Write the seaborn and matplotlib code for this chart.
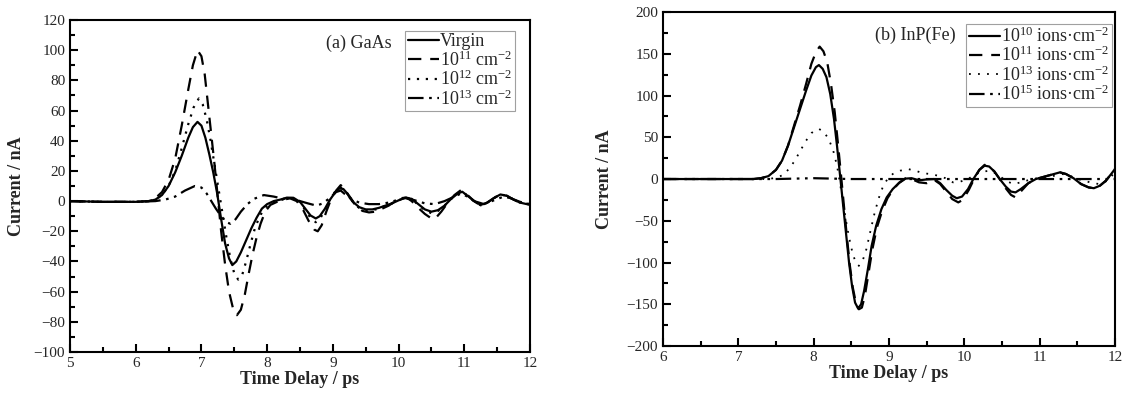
#!/usr/bin/env python3

import pandas as pd
import matplotlib
matplotlib.use('Agg')
import matplotlib.pyplot as plt
from matplotlib.ticker import MultipleLocator
import seaborn as sns

# values
# (a) GaAs
gaas_virgin_t = [5.0, 5.5, 6.0, 6.2, 6.3, 6.4, 6.5, 6.6, 6.7, 6.8, 6.87, 6.94, 7.0, 7.06,
                 7.12, 7.18, 7.24, 7.3, 7.36, 7.42, 7.47, 7.53, 7.6, 7.68, 7.76, 7.84,
                 7.92, 8.0, 8.1, 8.2, 8.3, 8.4, 8.5, 8.58, 8.66, 8.74, 8.8, 8.88, 8.95,
                 9.03, 9.1, 9.16, 9.24, 9.32, 9.4, 9.5, 9.6, 9.7, 9.8, 9.9, 10.0, 10.1,
                 10.2, 10.3, 10.4, 10.5, 10.6, 10.7, 10.8, 10.9, 10.97, 11.05, 11.15,
                 11.25, 11.35, 11.45, 11.55, 11.65, 11.75, 11.85, 11.95, 12.0]
gaas_virgin_i = [0.0, -0.5, -0.5, 0, 1, 4, 10, 19, 30, 42, 49, 52.5, 50, 42,
                 31, 19, 5, -12, -28, -38, -42.4, -40, -34, -26, -18, -11,
                 -5, -2, 0, 1, 2.3, 2.2, -0.5, -5, -9.5, -11.5, -10, -5, 0.5,
                 5.5, 8.4, 8, 4, -1, -4, -5.5, -5.5, -4.5, -3, -1.5, 0.5, 2.2,
                 1.5, -2, -5.5, -7, -6, -3, 1.5, 5, 6.2, 3.5, 0,
                 -2.5, -1, 2, 4.4, 3.5, 1, -1, -2, -2.2]

gaas_e11_t = [5.0, 5.5, 6.0, 6.2, 6.3, 6.4, 6.5, 6.6, 6.7, 6.8, 6.87, 6.94, 7.0, 7.05,
              7.1, 7.15, 7.2, 7.25, 7.3, 7.36, 7.42, 7.48, 7.54, 7.6, 7.66, 7.72, 7.78,
              7.84, 7.9, 7.97, 8.05, 8.15, 8.25, 8.35, 8.45, 8.55, 8.63, 8.72, 8.77,
              8.83, 8.9, 8.97, 9.05, 9.12, 9.18, 9.26, 9.35, 9.45, 9.55, 9.65, 9.75,
              9.85, 9.95, 10.05, 10.12, 10.2, 10.3, 10.4, 10.5, 10.55, 10.65, 10.75,
              10.85, 10.95, 11.05, 11.15, 11.25, 11.35, 11.45, 11.55, 11.65, 11.75,
              11.85, 12.0]
gaas_e11_i = [0.0, -0.5, -0.5, 0, 2, 6, 14, 28, 50, 74, 90, 100, 96, 84,
              64, 44, 24, 2, -20, -42, -60, -71, -75.6, -72, -62, -48, -35,
              -24, -15, -7, -2.5, -0.5, 1, 1.8, 0, -6, -13, -19, -20,
              -16, -7, 1, 7, 10.6, 8, 2, -3, -6.5, -7.5, -7, -5,
              -3, 0, 2, 2.4, 0, -4.5, -8.5, -11.5, -12, -7, -1,
              4, 7.3, 4, 0, -3, -1, 2, 4.4, 3.5, 1,
              -1, -2.2]

gaas_e12_t = [5.0, 5.5, 6.0, 6.2, 6.3, 6.4, 6.5, 6.6, 6.7, 6.8, 6.88, 6.96, 7.02, 7.08,
              7.14, 7.2, 7.26, 7.32, 7.38, 7.44, 7.5, 7.56, 7.62, 7.68, 7.75, 7.82,
              7.9, 7.98, 8.08, 8.2, 8.3, 8.4, 8.5, 8.58, 8.66, 8.74, 8.8, 8.88, 8.95,
              9.03, 9.1, 9.16, 9.24, 9.32, 9.4, 9.5, 9.6, 9.7, 9.8, 9.9, 10.0, 10.1,
              10.2, 10.3, 10.4, 10.5, 10.6, 10.7, 10.8, 10.9, 10.97, 11.05, 11.15,
              11.25, 11.35, 11.45, 11.55, 11.65, 11.75, 11.85, 11.95, 12.0]
gaas_e12_i = [0.0, -0.5, -0.5, 0, 1, 4, 10, 20, 35, 51, 62, 68, 64, 54,
              40, 24, 8, -8, -24, -38, -48, -52, -49, -40, -28, -17,
              -9, -4, -1, 0.5, 2, 2, -0.5, -6, -11, -14, -12, -6, 0.5,
              6, 9, 8.5, 4, -1.5, -4.5, -6, -6, -5, -3, -1.5, 0.5, 2.5,
              1.5, -2.5, -6, -8, -6.5, -3, 1.5, 5, 6.5, 3.5, 0,
              -2.8, -1, 2, 4.4, 3.5, 1, -1, -2, -2.2]

gaas_e13_t = [5.0, 5.5, 6.0, 6.3, 6.45, 6.6, 6.75, 6.9, 7.0, 7.08, 7.15, 7.22, 7.3,
              7.38, 7.44, 7.52, 7.6, 7.7, 7.8, 7.95, 8.1, 8.25, 8.38, 8.5, 8.62, 8.75,
              8.85, 8.95, 9.05, 9.12, 9.2, 9.3, 9.4, 9.55, 9.7, 9.85, 10.0, 10.1,
              10.25, 10.4, 10.55, 10.7, 10.85, 10.95, 11.05, 11.15, 11.3, 11.45, 11.6,
              11.7, 11.85, 12.0]
gaas_e13_i = [0.0, -0.5, -0.5, 0, 1, 3, 7, 10, 9, 5, 0, -5, -10,
              -14, -15, -12, -7, -2, 1.5, 4, 3, 1.5, 2, 0, -1.5, -3,
              -1.5, 2, 6, 7, 4, 1, -1, -2, -2, -1, 1, 2,
              0.5, -1.5, -2, 0, 3, 5, 3, 0, -2, 0.5, 3,
              2, -0.5, -2]

# (b) InP(Fe)
inp_e10_t = [6.0, 6.5, 7.0, 7.2, 7.3, 7.4, 7.5, 7.58, 7.66, 7.74, 7.82, 7.9, 7.97, 8.03,
             8.07, 8.12, 8.17, 8.22, 8.27, 8.31, 8.35, 8.39, 8.43, 8.47, 8.51, 8.55,
             8.59, 8.63, 8.67, 8.72, 8.77, 8.83, 8.9, 8.97, 9.05, 9.13, 9.22, 9.3,
             9.4, 9.5, 9.6, 9.68, 9.76, 9.84, 9.9, 9.97, 10.05, 10.12, 10.2, 10.27,
             10.33, 10.4, 10.47, 10.55, 10.62, 10.68, 10.75, 10.85, 10.95, 11.05,
             11.15, 11.27, 11.35, 11.45, 11.55, 11.65, 11.72, 11.8, 11.88, 11.95, 12.0]
inp_e10_i = [0.0, 0.0, 0.0, 0, 1, 3.5, 11, 22, 40, 62, 84, 106, 124, 134,
             136.5, 132, 122, 102, 72, 40, 5, -30, -65, -100, -128, -148,
             -155, -150, -134, -108, -80, -56, -36, -22, -12, -5, 0.5, 1,
             -1.5, -0.5, 0, -5, -13, -20, -23, -21, -12, 0, 11, 16,
             15, 9, 0, -9, -15, -16, -12, -5, 0, 2.5,
             5, 8, 6, 1, -6, -10, -11, -8, -2, 6, 12]

inp_e11_t = [6.0, 6.5, 7.0, 7.2, 7.3, 7.4, 7.5, 7.58, 7.66, 7.74, 7.82, 7.9, 7.97, 8.03,
             8.08, 8.13, 8.18, 8.23, 8.28, 8.32, 8.36, 8.4, 8.44, 8.48, 8.52, 8.56,
             8.6, 8.64, 8.68, 8.73, 8.78, 8.84, 8.91, 8.98, 9.06, 9.14, 9.22, 9.3,
             9.4, 9.5, 9.6, 9.68, 9.76, 9.84, 9.92, 9.98, 10.06, 10.13, 10.2, 10.27,
             10.33, 10.4, 10.47, 10.55, 10.62, 10.68, 10.75, 10.85, 10.95, 11.05,
             11.15, 11.27, 11.35, 11.45, 11.55, 11.65, 11.72, 11.8, 11.88, 11.95, 12.0]
inp_e11_i = [0.0, 0.0, 0.0, 0, 1, 3.5, 11, 22, 40, 64, 88, 114, 138, 152,
             158.6, 153, 140, 114, 80, 45, 8, -30, -68, -103, -130, -148,
             -156, -154, -140, -112, -84, -58, -38, -23, -12, -4, 1, 0,
             -4, -5, -1, -6, -15, -24, -28, -25, -13, 0, 11, 17,
             15, 9, 0, -11, -19, -22, -15, -5, 0, 2.5,
             5, 8, 6, 1, -6, -10, -11, -8, -2, 6, 12]

inp_e13_t = [6.0, 6.5, 7.0, 7.4, 7.5, 7.6, 7.68, 7.75, 7.83, 7.9, 7.97, 8.03, 8.07,
             8.13, 8.2, 8.26, 8.31, 8.35, 8.39, 8.43, 8.47, 8.51, 8.55, 8.6, 8.65,
             8.7, 8.75, 8.8, 8.86, 8.92, 8.98, 9.05, 9.15, 9.25, 9.35, 9.45, 9.55,
             9.65, 9.75, 9.85, 9.95, 10.05, 10.15, 10.25, 10.35, 10.45, 10.55, 10.65,
             10.75, 10.9, 11.05, 11.2, 11.3, 11.4, 11.5, 11.6, 11.7, 11.8, 11.9, 12.0]
inp_e13_i = [0.0, 0.0, 0.0, 0, 1.5, 5, 13, 22, 35, 46, 55, 59, 60,
             57, 48, 34, 16, -5, -28, -50, -70, -86, -98, -104, -98,
             -84, -64, -44, -24, -9, 0, 6, 10, 12, 10, 7, 6,
             4, 1, -4, -3, 0, 6, 9, 10, 5, -2, -6,
             -4, 0, 2, 4, 6, 4, 0, -2, -5, -6, -2, 8]

inp_e15_t = [6.0, 7.0, 7.5, 8.0, 8.5, 9.0, 10.0, 11.0, 12.0]
inp_e15_i = [0.0, 0.0, 0.0, 1.0, 0.0, 0.0, 0.0, 0.0, 0.0]

gaas_labels = ['Virgin', '10$^{11}$ cm$^{-2}$', '10$^{12}$ cm$^{-2}$', '10$^{13}$ cm$^{-2}$']
inp_labels = ['10$^{10}$ ions\u00b7cm$^{-2}$', '10$^{11}$ ions\u00b7cm$^{-2}$',
              '10$^{13}$ ions\u00b7cm$^{-2}$', '10$^{15}$ ions\u00b7cm$^{-2}$']

# Set style
sns.set_style('ticks')
plt.rcParams['font.family'] = ['Liberation Serif', 'DejaVu Serif']
plt.rcParams['mathtext.fontset'] = 'custom'
plt.rcParams['mathtext.rm'] = 'Liberation Serif'
plt.rcParams['mathtext.it'] = 'Liberation Serif:italic'
plt.rcParams['mathtext.bf'] = 'Liberation Serif:bold'
plt.rcParams['axes.linewidth'] = 1.5
plt.rcParams['axes.edgecolor'] = 'black'


def draw_series(ax, t, i, label, dashes, lw=1.6):
    df = pd.DataFrame({'t': t, 'i': i})
    sns.lineplot(data=df, x='t', y='i', ax=ax, color='black', lw=lw,
                 label=label, sort=False, estimator=None)
    line = ax.get_lines()[-1]
    if dashes is not None:
        line.set_dashes(dashes)


def style_axes(ax, xlim, ylim, ymajor, yminor):
    ax.set_xlim(*xlim)
    ax.set_ylim(*ylim)
    ax.xaxis.set_major_locator(MultipleLocator(1))
    ax.xaxis.set_minor_locator(MultipleLocator(0.5))
    ax.yaxis.set_major_locator(MultipleLocator(ymajor))
    ax.yaxis.set_minor_locator(MultipleLocator(yminor))
    ax.tick_params(which='both', direction='in', top=False, right=False,
                   labelsize=11, color='black', width=1.5)
    ax.tick_params(which='major', length=6)
    ax.tick_params(which='minor', length=3.5)
    ax.set_xlabel('Time Delay / ps', fontsize=13, fontweight='bold', labelpad=1)
    ax.set_ylabel('Current / nA', fontsize=13, fontweight='bold')


fig = plt.figure(figsize=(11.31, 3.99), dpi=100)
ax1 = fig.add_axes([0.0619, 0.1178, 0.4067, 0.832])
ax2 = fig.add_axes([0.5862, 0.1328, 0.3996, 0.837])

leg_kw = dict(loc='upper right', fontsize=13, frameon=True, fancybox=False,
              edgecolor='#888888', borderaxespad=0, borderpad=0.15,
              labelspacing=0.0, handlelength=1.75, handletextpad=0.05)

# panel (a)
draw_series(ax1, gaas_virgin_t, gaas_virgin_i, gaas_labels[0], None)
draw_series(ax1, gaas_e11_t, gaas_e11_i, gaas_labels[1], (6, 4))
draw_series(ax1, gaas_e12_t, gaas_e12_i, gaas_labels[2], (1, 3))
draw_series(ax1, gaas_e13_t, gaas_e13_i, gaas_labels[3], (7, 2.5, 1.2, 2.5, 1.2, 2.5))
style_axes(ax1, (5, 12), (-100, 120), 20, 10)
ax1.yaxis.labelpad = 6
ax1.text(0.557, 0.93, '(a) GaAs', transform=ax1.transAxes, fontsize=13,
         ha='left', va='center')
leg1 = ax1.legend(bbox_to_anchor=(0.968, 0.968), **leg_kw)
leg1.get_frame().set_linewidth(0.8)

# panel (b)
draw_series(ax2, inp_e10_t, inp_e10_i, inp_labels[0], None)
draw_series(ax2, inp_e11_t, inp_e11_i, inp_labels[1], (6, 4))
draw_series(ax2, inp_e13_t, inp_e13_i, inp_labels[2], (1, 4), lw=1.3)
draw_series(ax2, inp_e15_t, inp_e15_i, inp_labels[3], (7, 2.5, 1.2, 2.5, 1.2, 2.5))
style_axes(ax2, (6, 12), (-200, 200), 50, 25)
ax2.yaxis.labelpad = 10
ax2.text(0.47, 0.93, '(b) InP(Fe)', transform=ax2.transAxes, fontsize=13,
         ha='left', va='center')
leg2 = ax2.legend(bbox_to_anchor=(0.994, 0.965), **leg_kw)
leg2.get_frame().set_linewidth(0.8)

fig.savefig('out.png', dpi=100)
plt.close(fig)
